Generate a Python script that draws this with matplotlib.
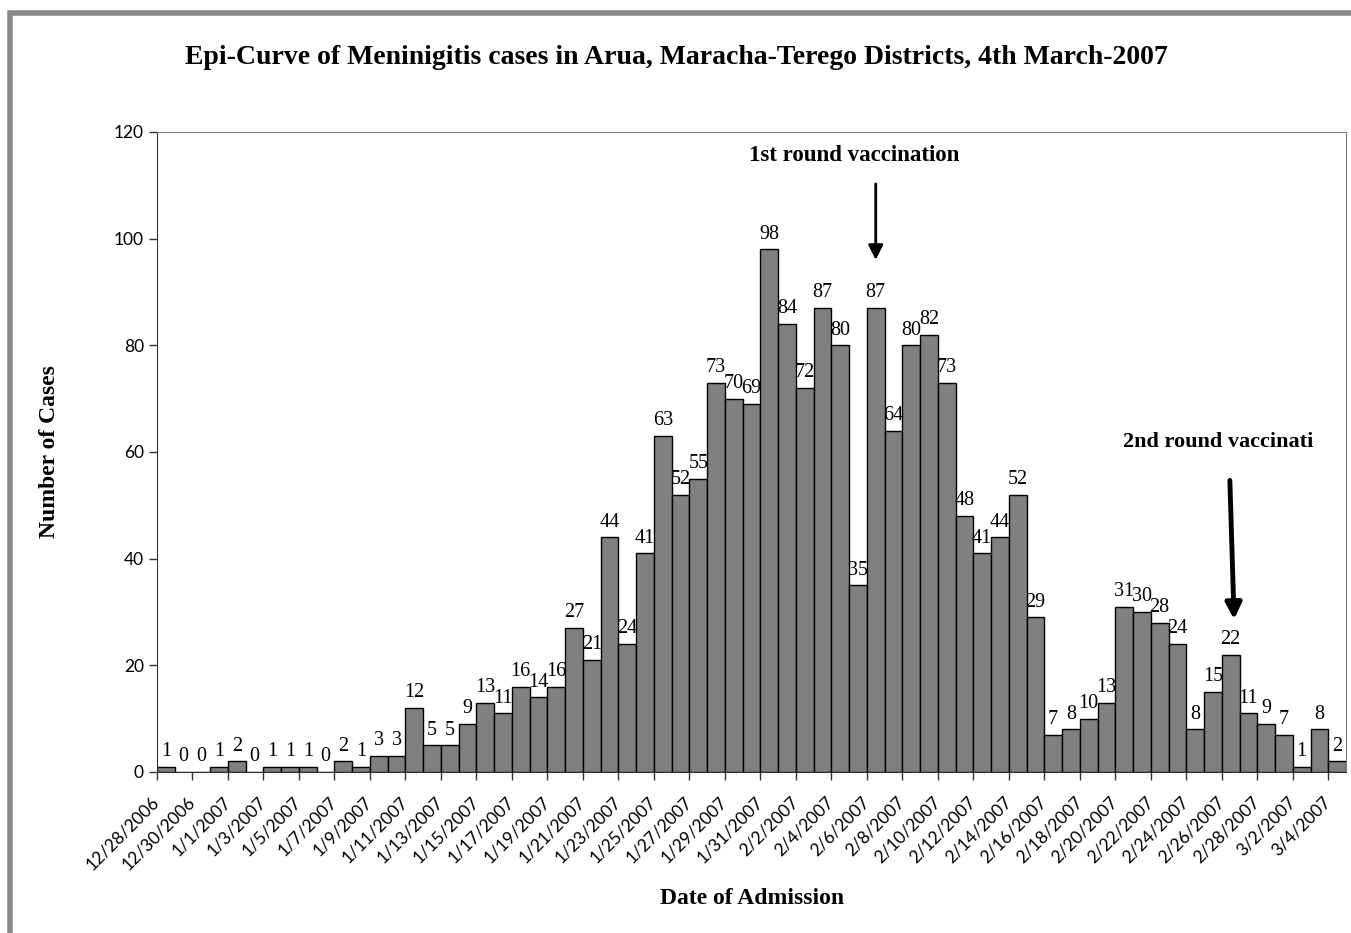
import datetime as dt
import matplotlib
matplotlib.use("Agg")
import matplotlib.pyplot as plt
from matplotlib.patches import Rectangle

start = dt.date(2006, 12, 28)
cases = [1, 0, 0, 1, 2, 0, 1, 1, 1, 0, 2, 1, 3, 3, 12,
         5, 5, 9, 13, 11, 16, 14, 16, 27, 21,
         44, 24, 41, 63, 52, 55, 73, 70, 69, 98,
         84, 72, 87, 80, 35, 87, 64, 80, 82, 73,
         48, 41, 44, 52, 29, 7, 8, 10, 13, 31,
         30, 28, 24, 8, 15, 22, 11, 9, 7, 1,
         8, 2]
dates = [start + dt.timedelta(days=i) for i in range(len(cases))]
date_labels = [f"{d.month}/{d.day}/{d.year}" for d in dates]
yticks = [0, 20, 40, 60, 80, 100, 120]

serif = "Liberation Serif"
sans = "Lato"

fig = plt.figure(figsize=(13.51, 9.33), dpi=100)
# outer chart border (only top/left visible in the crop)
fig.patches.append(Rectangle((10 / 1351, -0.1), 1.2, 1.1 - 13 / 933,
                             transform=fig.transFigure, fill=False,
                             edgecolor="#8a8a8a", linewidth=4))

ax = fig.add_axes([157 / 1351, 1 - 772 / 933, 1189 / 1351, 640 / 933])
x = list(range(len(cases)))
ax.bar(x, cases, width=1.0, color="#808080", edgecolor="black", linewidth=1.0)

for i, v in enumerate(cases):
    ax.annotate(str(v), (i, v), xytext=(0, 4), textcoords="offset points",
                ha="center", va="bottom", fontsize=14.5, family=serif)

ax.set_xlim(-0.5, len(cases) - 0.5)
ax.set_ylim(0, 120)
ax.set_yticks(yticks)
ax.set_yticklabels([str(t) for t in yticks], family=sans, fontsize=12.5)

tick_pos = [i - 0.5 for i in range(0, len(cases), 2)]
ax.set_xticks(tick_pos)
ax.set_xticklabels(date_labels[::2], rotation=45, ha="right", va="center",
                   rotation_mode="anchor", family=sans, fontsize=12.5)
ax.tick_params(axis="both", direction="out", length=6, width=1, color="#333333")
ax.tick_params(axis="x", pad=14)

for s in ["top", "right"]:
    ax.spines[s].set_color("#808080")
for s in ["left", "bottom"]:
    ax.spines[s].set_color("#333333")

fig.text(676 / 1351, 1 - 58 / 933,
         "Epi-Curve of Meninigitis cases in Arua, Maracha-Terego Districts, 4th March-2007",
         ha="center", va="center", fontsize=20, fontweight="bold", family=serif)
fig.text(752 / 1351, 1 - 898 / 933, "Date of Admission", ha="center", va="center",
         fontsize=17, fontweight="bold", family=serif)
fig.text(50 / 1351, 1 - 452 / 933, "Number of Cases", ha="center", va="center",
         rotation=90, fontsize=17, fontweight="bold", family=serif)

ax.annotate("", xy=(40, 95.5), xytext=(40, 110.8),
            arrowprops=dict(arrowstyle="-|>", color="black", lw=2, mutation_scale=22))
ax.text(38.8, 115.6, "1st round vaccination", ha="center", va="center",
        fontsize=16.5, fontweight="bold", family=serif)
ax.annotate("", xy=(60.2, 28.1), xytext=(59.95, 55.2),
            arrowprops=dict(arrowstyle="-|>", color="black", lw=3.5, mutation_scale=24))
ax.text(59.3, 61.9, "2nd round vaccinati", ha="center", va="center",
        fontsize=16, fontweight="bold", family=serif)

fig.savefig("out.png", dpi=100)
